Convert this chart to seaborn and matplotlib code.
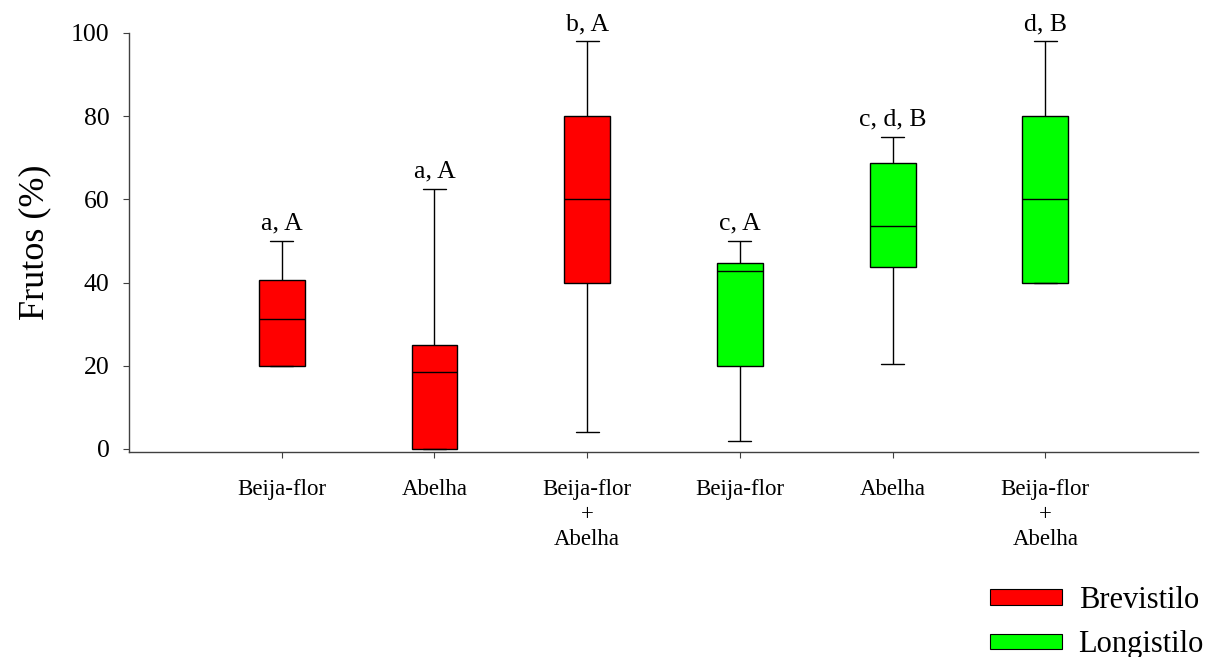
import pandas as pd
import matplotlib.pyplot as plt
import seaborn as sns
from matplotlib.patches import Patch

# valores: [mínimo, Q1, mediana, Q3, máximo] de cada grupo
grupos = ['bf_brev', 'ab_brev', 'bfab_brev', 'bf_long', 'ab_long', 'bfab_long']
estilos = ['Brevistilo', 'Brevistilo', 'Brevistilo', 'Longistilo', 'Longistilo', 'Longistilo']
valores = [
    [20, 20, 31.25, 40.6, 50],
    [0, 0, 18.5, 25, 62.5],
    [4, 40, 60, 80, 98],
    [2, 20, 42.8, 44.7, 50],
    [20.5, 43.75, 53.6, 68.75, 75],
    [40, 40, 60, 80, 98],
]
rotulos_x = ['Beija-flor', 'Abelha', 'Beija-flor\n+\nAbelha',
             'Beija-flor', 'Abelha', 'Beija-flor\n+\nAbelha']
letras = ['a, A', 'a, A', 'b, A', 'c, A', 'c, d, B', 'd, B']
cores = {'Brevistilo': '#FF0000', 'Longistilo': '#00FF00'}

# tabela longa para o seaborn
linhas = []
for g, e, vals in zip(grupos, estilos, valores):
    for v in vals:
        linhas.append({'grupo': g, 'estilo': e, 'frutos': v})
df = pd.DataFrame(linhas)

sns.set_style('ticks')
plt.rcParams['font.family'] = ['Liberation Serif', 'DejaVu Serif']
plt.rcParams['text.color'] = 'black'
plt.rcParams['axes.labelcolor'] = 'black'

fig = plt.figure(figsize=(12.11, 6.57), dpi=100)
ax = fig.add_axes([0.1065, 0.312, 0.8828, 0.6378])

sns.boxplot(data=df, x='grupo', y='frutos', hue='estilo', order=grupos,
            palette=cores, width=0.3, whis=(0, 100), dodge=False,
            saturation=1, linecolor='black', linewidth=1, legend=False, ax=ax)

# letras acima de cada bigode superior
maximos = df.groupby('grupo')['frutos'].max()
for i, g in enumerate(grupos):
    ax.annotate(letras[i], xy=(i, maximos[g]), xytext=(0, 8),
                textcoords='offset points', ha='center', va='baseline',
                fontsize=18.5, color='black')

ax.set_xlim(-1, 6)
ax.set_ylim(-0.75, 100)
ax.set_yticks([0, 20, 40, 60, 80, 100])
ax.set_xticks(range(len(grupos)))
ax.set_xticklabels(rotulos_x, fontsize=16.5, linespacing=1.25)
ax.tick_params(axis='y', labelsize=18.5, length=4, pad=10, color='#404040', labelcolor='black')
ax.tick_params(axis='x', length=4.5, pad=15, color='#404040', labelcolor='black')
ax.set_xlabel('')
ax.set_ylabel('Frutos (%)', fontsize=26, labelpad=14)

# remover bordas de cima e da direita
ax.spines['top'].set_visible(False)
ax.spines['right'].set_visible(False)
for lado in ['left', 'bottom']:
    ax.spines[lado].set_color('#404040')
    ax.spines[lado].set_linewidth(1)

handles = [Patch(facecolor=cores[k], edgecolor='black', linewidth=0.8, label=k)
           for k in ['Brevistilo', 'Longistilo']]
fig.legend(handles=handles, loc='upper left', bbox_to_anchor=(990 / 1211, 1 - 586 / 657),
           frameon=False, fontsize=22, handlelength=2.35, handleheight=0.4,
           handletextpad=0.55, labelspacing=0.5, borderpad=0, borderaxespad=0)

fig.savefig('out.png', dpi=100)
plt.close(fig)
